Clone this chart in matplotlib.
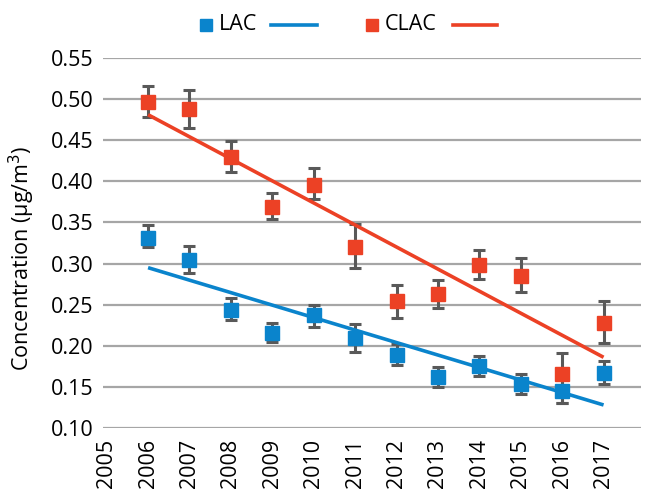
import matplotlib
matplotlib.use("Agg")
import matplotlib.pyplot as plt
from matplotlib.lines import Line2D
import numpy as np

plt.rcParams['font.family'] = ['Open Sans', 'DejaVu Sans']

years = [2006, 2007, 2008, 2009, 2010, 2011, 2012, 2013, 2014, 2015, 2016, 2017]
lac = [0.331, 0.304, 0.244, 0.216, 0.237, 0.210, 0.189, 0.162, 0.176, 0.153, 0.145, 0.167]
lac_err_lo = [0.011, 0.015, 0.013, 0.012, 0.014, 0.018, 0.012, 0.012, 0.013, 0.012, 0.015, 0.014]
lac_err_hi = [0.016, 0.017, 0.014, 0.012, 0.013, 0.017, 0.013, 0.012, 0.012, 0.013, 0.015, 0.015]
clac = [0.497, 0.488, 0.430, 0.369, 0.395, 0.320, 0.254, 0.263, 0.298, 0.285, 0.166, 0.228]
clac_err_lo = [0.019, 0.023, 0.019, 0.015, 0.017, 0.025, 0.020, 0.017, 0.017, 0.020, 0.036, 0.025]
clac_err_hi = [0.019, 0.023, 0.019, 0.017, 0.021, 0.028, 0.020, 0.017, 0.019, 0.022, 0.025, 0.026]
trend_years = [2006, 2017]
lac_trend = [0.295, 0.128]
clac_trend = [0.481, 0.186]
x_ticks = list(range(2005, 2018))
y_ticks = [0.10, 0.15, 0.20, 0.25, 0.30, 0.35, 0.40, 0.45, 0.50, 0.55]

blue = '#0a84cc'
red = '#ec4125'
errc = '#595959'
fs = 15.5

fig = plt.figure(figsize=(6.46, 4.94), dpi=100)
ax = fig.add_axes([0.160, 0.1336, 0.832, 0.749])

ax.plot(trend_years, lac_trend, color=blue, lw=2.6, solid_capstyle='butt', zorder=3)
ax.plot(trend_years, clac_trend, color=red, lw=2.6, solid_capstyle='butt', zorder=3)

ax.errorbar(years, lac, yerr=[lac_err_lo, lac_err_hi], fmt='none', ecolor=errc,
            elinewidth=2.2, capsize=4.5, capthick=2.2, zorder=2)
ax.errorbar(years, clac, yerr=[clac_err_lo, clac_err_hi], fmt='none', ecolor=errc,
            elinewidth=2.2, capsize=4.5, capthick=2.2, zorder=2)
ax.plot(years, lac, 's', color=blue, ms=9.5, mec=blue, zorder=4, ls='none')
ax.plot(years, clac, 's', color=red, ms=9.5, mec=red, zorder=4, ls='none')

ax.set_xlim(2004.92, 2017.9)
ax.set_ylim(0.10, 0.55)
ax.set_xticks(x_ticks)
ax.set_xticklabels([str(y) for y in x_ticks], rotation=90, fontsize=fs)
ax.set_yticks(y_ticks)
ax.set_yticklabels([f"{v:.2f}" for v in y_ticks], fontsize=fs)
ax.tick_params(length=0)
ax.tick_params(axis='y', pad=7)
ax.tick_params(axis='x', pad=8)
ax.yaxis.grid(True, color='#a6a6a6', lw=1.6)
ax.set_axisbelow(True)
for s in ax.spines.values():
    s.set_visible(False)

def fx(px):
    return px / 646
def fy(py):
    return 1 - py / 494

fig.text(fx(22), fy(258), 'Concentration (μg/m$^3$)', fontsize=fs, rotation=90,
         ha='center', va='center')

# legend
fig.add_artist(Line2D([fx(206)], [fy(25.5)], marker='s', color=blue, ms=8, ls='none'))
fig.text(fx(219), fy(25), 'LAC', fontsize=fs, va='center', ha='left')
fig.add_artist(Line2D([fx(271), fx(317)], [fy(25), fy(25)], color=blue, lw=2.6))
fig.add_artist(Line2D([fx(372)], [fy(25.5)], marker='s', color=red, ms=8, ls='none'))
fig.text(fx(385), fy(25), 'CLAC', fontsize=fs, va='center', ha='left')
fig.add_artist(Line2D([fx(453), fx(497)], [fy(25), fy(25)], color=red, lw=2.6))

fig.savefig('out.png', dpi=100)
